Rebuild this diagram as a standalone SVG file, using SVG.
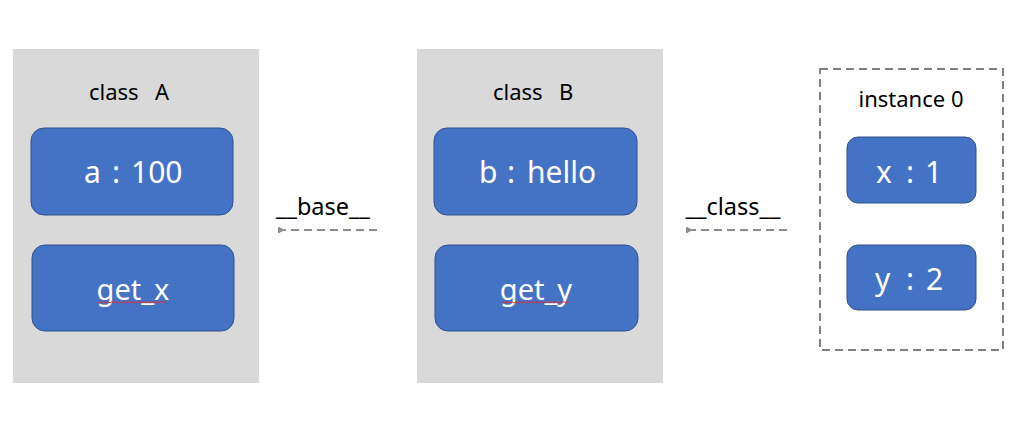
<svg xmlns="http://www.w3.org/2000/svg" width="1027" height="426" viewBox="0 0 1027 426">
<style>
.panel{fill:#d9d9d9}
.box{fill:#4472c4;stroke:#2f528f;stroke-width:1}
.title{font-family:"Noto Sans","Liberation Sans",sans-serif;font-size:22px;fill:#000}
.val{font-family:"Noto Sans","Liberation Sans",sans-serif;font-size:30px;fill:#fff}
.fn{font-family:"Noto Sans","Liberation Sans",sans-serif;font-size:29px;fill:#fff;text-anchor:middle}
.lbl{font-family:"Noto Sans","Liberation Sans",sans-serif;font-size:23.5px;fill:#000;text-anchor:middle}
.conn{stroke:#8c8c8c;stroke-width:2;stroke-dasharray:8,5;fill:none}
.sq{stroke:#e03030;stroke-width:1;fill:none}
</style>
<defs>
<marker id="ah" markerWidth="7" markerHeight="7" refX="1" refY="3.5" orient="auto" markerUnits="userSpaceOnUse">
<path d="M7,0 L0,3.5 L7,7 Z" fill="#8c8c8c"/>
</marker>
</defs>
<rect width="1027" height="426" fill="#fff"/>
<g id="classA">
<rect class="panel" x="13" y="49" width="246" height="334"/>
<text class="title" y="100"><tspan x="89">class</tspan><tspan x="155">A</tspan></text>
<rect class="box" x="31" y="128" width="202" height="87" rx="13"/>
<text class="val" y="183"><tspan x="84">a</tspan><tspan x="112">:</tspan><tspan x="131">100</tspan></text>
<rect class="box" x="32" y="245" width="202" height="86" rx="13"/>
<text class="fn" x="133" y="300">get_x</text>
<path class="sq" d="M98,303 l2,-1.5 l2,1.5 l2,-1.5 l2,1.5 l2,-1.5 l2,1.5 l2,-1.5 l2,1.5 l2,-1.5 l2,1.5 l2,-1.5 l2,1.5 l2,-1.5 l2,1.5 l2,-1.5 l2,1.5 l2,-1.5 l2,1.5 l2,-1.5 l2,1.5 l2,-1.5 l2,1.5 l2,-1.5 l2,1.5 l2,-1.5 l2,1.5 l2,-1.5 l2,1.5 l2,-1.5 l2,1.5 l2,-1.5 l2,1.5 l2,-1.5 l2,1.5"/>
</g>
<g id="classB">
<rect class="panel" x="417" y="49" width="246" height="334"/>
<text class="title" y="100"><tspan x="493">class</tspan><tspan x="559">B</tspan></text>
<rect class="box" x="434" y="128" width="203" height="87" rx="13"/>
<text class="val" y="183"><tspan x="479">b</tspan><tspan x="507">:</tspan><tspan x="527">hello</tspan></text>
<rect class="box" x="435" y="245" width="203" height="86" rx="13"/>
<text class="fn" x="536" y="300">get_y</text>
<path class="sq" d="M502,303 l2,-1.5 l2,1.5 l2,-1.5 l2,1.5 l2,-1.5 l2,1.5 l2,-1.5 l2,1.5 l2,-1.5 l2,1.5 l2,-1.5 l2,1.5 l2,-1.5 l2,1.5 l2,-1.5 l2,1.5 l2,-1.5 l2,1.5 l2,-1.5 l2,1.5 l2,-1.5 l2,1.5 l2,-1.5 l2,1.5 l2,-1.5 l2,1.5 l2,-1.5 l2,1.5 l2,-1.5 l2,1.5 l2,-1.5 l2,1.5 l2,-1.5 l2,1.5"/>
</g>
<g id="instance0">
<rect x="820" y="69" width="183" height="281" fill="none" stroke="#808080" stroke-width="2" stroke-dasharray="8,5"/>
<text class="title" x="911" y="107" text-anchor="middle" font-size="23">instance 0</text>
<rect class="box" x="847" y="137" width="129" height="66" rx="11"/>
<text class="val" y="183"><tspan x="876">x</tspan><tspan x="906">:</tspan><tspan x="925">1</tspan></text>
<rect class="box" x="847" y="245" width="129" height="65" rx="11"/>
<text class="val" y="290"><tspan x="875">y</tspan><tspan x="906">:</tspan><tspan x="926">2</tspan></text>
</g>
<g id="connectors">
<g id="base-link">
<path class="conn" d="M377,230 L284,230" marker-end="url(#ah)"/>
<text class="lbl" x="323" y="215">__base__</text>
</g>
<g id="class-link">
<path class="conn" d="M787,230 L692,230" marker-end="url(#ah)"/>
<text class="lbl" x="733" y="215">__class__</text>
</g>
</g>
</svg>
